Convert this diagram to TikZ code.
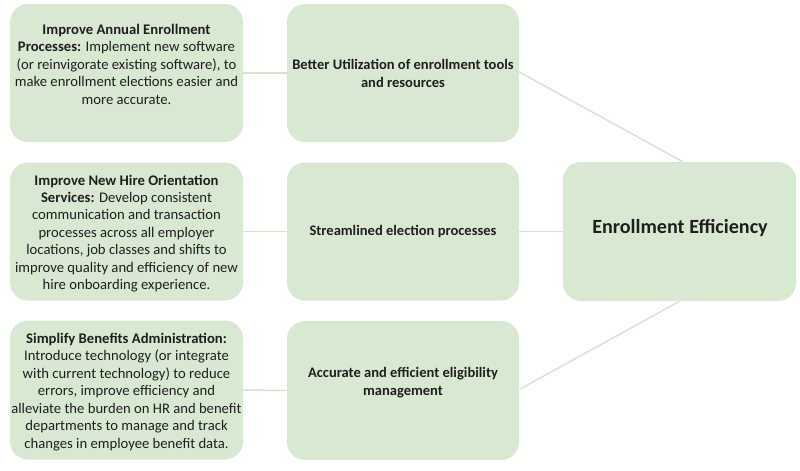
\documentclass[tikz,border=0pt]{standalone}
\usepackage{fontspec}
\setmainfont{Carlito}
\definecolor{boxfill}{HTML}{D8E9D1}
\definecolor{linkcol}{HTML}{D4E4CD}
\definecolor{txtcol}{HTML}{1F1F1F}
\tikzset{
  box/.style={draw=none, fill=boxfill, rounded corners=13.5pt, minimum width=174.75pt, minimum height=103.5pt, inner sep=0pt},
  txt/.style={inner sep=0pt, align=center, text=txtcol},
  ltxt/.style={txt, font=\fontsize{11pt}{13.1pt}\selectfont},
  mtxt/.style={txt, font=\fontsize{10.9pt}{13.6pt}\selectfont\bfseries},
  rtxt/.style={txt, font=\fontsize{15.1pt}{18pt}\selectfont\bfseries},
  link/.style={draw=linkcol, line width=1.1pt}
}
\begin{document}
\begin{tikzpicture}[x=0.75pt, y=-0.75pt]
\useasboundingbox (0,0) rectangle (800,471);
% boxes
\node[box] (l1) at (126.5,73) {};
\node[box] (l2) at (126.5,231.5) {};
\node[box, minimum height=104.25pt] (l3) at (126.5,390) {};
\node[box, minimum width=174pt] (m1) at (403,73) {};
\node[box, minimum width=174pt] (m2) at (403,231.5) {};
\node[box, minimum width=174pt, minimum height=104.25pt] (m3) at (403,390.5) {};
\node[box, minimum height=104.25pt] (r) at (679.5,231.5) {};
% connectors
\draw[link] (l1.east) -- (m1.west);
\draw[link] (l2.east) -- (m2.west);
\draw[link] (l3.east) -- (m3.west);
\draw[link] ([yshift=0.75pt]m1.east) -- ([xshift=2.5pt]r.north);
\draw[link] (m2.east) -- (r.west);
\draw[link] ([yshift=0.75pt]m3.east) -- (r.south);
% texts
\node[ltxt] (t1) at (126.5,64) {\textbf{Improve Annual Enrollment}\\\textbf{Processes:} Implement new software\\(or reinvigorate existing software), to\\make enrollment elections easier and\\more accurate.};
\node[ltxt] (t2) at (126.5,233.5) {\textbf{Improve New Hire Orientation}\\\textbf{Services:} Develop consistent\\communication and transaction\\processes across all employer\\locations, job classes and shifts to\\improve quality and efficiency of new\\hire onboarding experience.};
\node[ltxt] (t3) at (126.5,392) {\textbf{Simplify Benefits Administration:}\\Introduce technology (or integrate\\with current technology) to reduce\\errors, improve efficiency and\\alleviate the burden on HR and benefit\\departments to manage and track\\changes in employee benefit data.};
\node[mtxt] (u1) at (403,73.5) {Better Utilization of enrollment tools\\and resources};
\node[mtxt] (u2) at (403,232) {Streamlined election processes};
\node[mtxt] (u3) at (403,383) {Accurate and efficient eligibility\\management};
\node[rtxt] (v) at (680,228) {Enrollment Efficiency};
\end{tikzpicture}
\end{document}
